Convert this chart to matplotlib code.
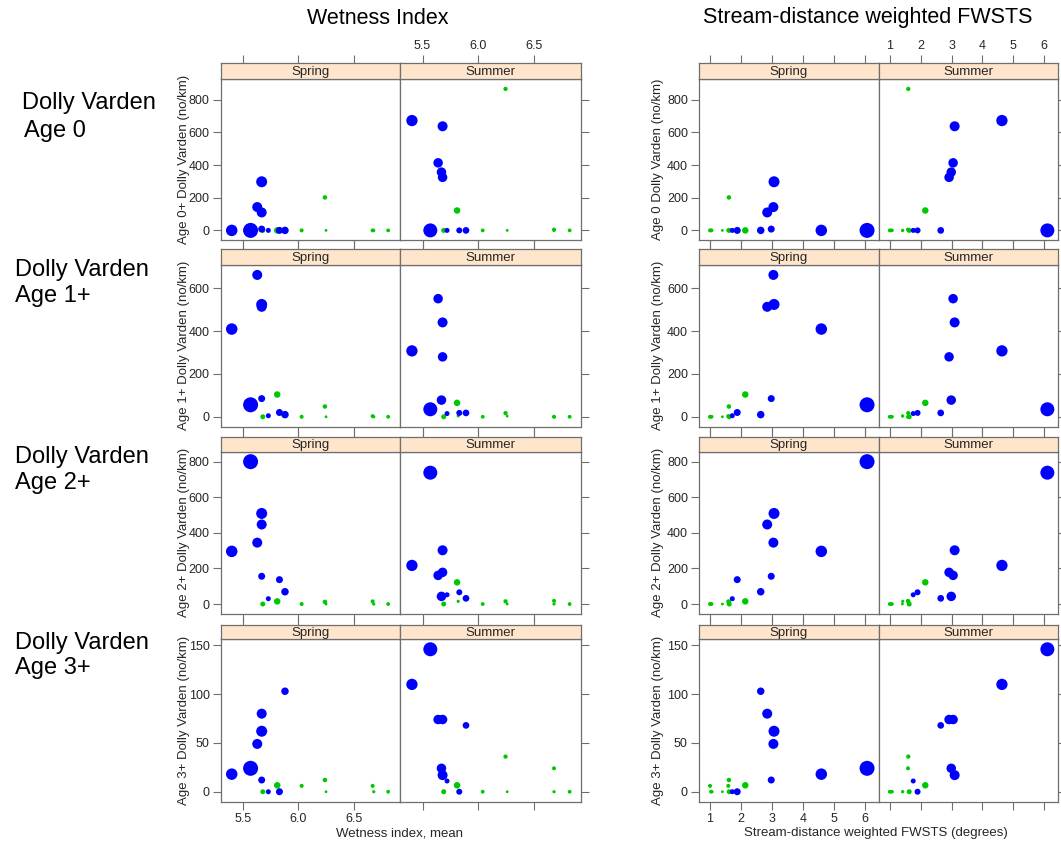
import matplotlib
matplotlib.use("Agg")
import matplotlib.pyplot as plt
from matplotlib.ticker import FormatStrFormatter

plt.rcParams['font.family'] = ['Liberation Sans', 'DejaVu Sans']

# ---------------------------------------------------------------------------
# Survey data: one entry per site, per season
# group: 1 = blue sites, 0 = green sites ; weight: relative site weight
# ---------------------------------------------------------------------------
seasons = ["Spring", "Summer"]
age_classes = ["0", "1+", "2+", "3+"]

spring_wetness = [5.68, 5.81, 6.03, 6.24, 6.25, 6.67, 6.68, 6.81,
                  5.63, 5.67, 5.67, 5.67, 5.73, 5.83, 5.88, 5.40, 5.57]
spring_fwsts = [1.62, 2.14, 1.00, 1.61, 1.40, 1.59, 1.02, 1.05,
                3.05, 3.07, 2.85, 2.98, 1.72, 1.88, 2.64, 4.60, 6.08]
spring_group = [0, 0, 0, 0, 0, 0, 0, 0,
                1, 1, 1, 1, 1, 1, 1, 1, 1]
spring_weight = [5.0, 6.5, 4.0, 4.5, 2.8, 4.0, 3.2, 3.8,
                 10.0, 11.0, 10.0, 7.0, 5.0, 7.0, 7.5, 11.5, 15.0]
spring_age0 = [0, 0, 0, 202, 0, 0, 0, 0,
               143, 298, 110, 8, 0, 0, 0, 0, 0]
spring_age1 = [0, 104, 0, 48, 0, 3, 0, 0,
               663, 525, 514, 85, 5, 20, 10, 410, 56]
spring_age2 = [0, 15, 0, 12, 0, 15, 0, 0,
               345, 509, 447, 156, 30, 137, 69, 296, 800]
spring_age3 = [0, 6.6, 6, 12, 0, 6, 0, 0,
               49, 62, 80, 12, 0, 0, 103, 18, 24]

summer_wetness = [5.69, 5.81, 6.04, 6.245, 6.26, 6.68, 6.68, 6.82, 5.82,
                  5.64, 5.68, 5.68, 5.67, 5.72, 5.83, 5.89, 5.405, 5.57]
summer_fwsts = [1.63, 2.15, 1.00, 1.60, 1.41, 1.59, 1.08, 1.05, 1.42,
                3.05, 3.10, 2.92, 2.99, 1.76, 1.90, 2.65, 4.63, 6.10]
summer_group = [0, 0, 0, 0, 0, 0, 0, 0, 0,
                1, 1, 1, 1, 1, 1, 1, 1, 1]
summer_weight = [5.0, 6.5, 3.8, 4.3, 2.8, 4.0, 3.2, 3.8, 3.2,
                 9.5, 10.0, 9.5, 9.5, 5.0, 6.0, 6.7, 11.3, 14.0]
summer_age0 = [0, 122, 0, 867, 0, 5, 0, 0, 0,
               414, 638, 325, 357, 0, 0, 0, 673, 0]
summer_age1 = [0, 65, 0, 17, 3, 0, 0, 0, 4,
               552, 441, 280, 78, 15, 18, 18, 308, 35]
summer_age2 = [0, 122, 0, 15, 0, 18, 0, 0, 15,
               161, 302, 178, 43, 52, 66, 32, 217, 738]
summer_age3 = [0, 6.6, 0, 36, 0, 24, 0, 0, 0,
               74, 17, 74, 24, 11, 0, 68, 110, 146]

wetness_ticks = [5.5, 6.0, 6.5]
fwsts_ticks = [1, 2, 3, 4, 5, 6]
density_ticks = [[0, 200, 400, 600, 800],
                 [0, 200, 400, 600],
                 [0, 200, 400, 600, 800],
                 [0, 50, 100, 150]]

sites = {
    "Spring": dict(wet=spring_wetness, fw=spring_fwsts, grp=spring_group,
                   w=spring_weight,
                   ages=[spring_age0, spring_age1, spring_age2, spring_age3]),
    "Summer": dict(wet=summer_wetness, fw=summer_fwsts, grp=summer_group,
                   w=summer_weight,
                   ages=[summer_age0, summer_age1, summer_age2, summer_age3]),
}

# ---------------------------------------------------------------------------
# Figure layout (pixel geometry of the trellis)
# ---------------------------------------------------------------------------
W, H = 1061, 844
fig = plt.figure(figsize=(W / 100, H / 100), dpi=100)
fig.patch.set_facecolor("white")

def px_axes(x0, y0, x1, y1):
    return fig.add_axes([x0 / W, 1 - y1 / H, (x1 - x0) / W, (y1 - y0) / H])

def fx(x):
    return x / W

def fy(y):
    return 1 - y / H

col_edges = {"wet": {"Spring": (220.7, 400.3), "Summer": (400.3, 580.7)},
             "fw": {"Spring": (699.0, 878.7), "Summer": (878.7, 1058.4)}}
row_edges = [(63.3, 79.0, 240.3), (249.3, 265.0, 426.7),
             (436.7, 451.7, 614.0), (625.0, 639.3, 801.7)]

def padded(vals):
    lo, hi = min(vals), max(vals)
    pad = 0.07 * (hi - lo)
    return lo - pad, hi + pad

xlims = {"wet": padded(spring_wetness + summer_wetness),
         "fw": padded(spring_fwsts + summer_fwsts)}
xticks = {"wet": wetness_ticks, "fw": fwsts_ticks}
xfmt = {"wet": "%.1f", "fw": "%d"}

FRAME = "#6e6e6e"
TXT = "#262626"
STRIP_BG = "#FFE5CC"
COLORS = {1: "#0000FF", 0: "#00C800"}

def style_frame(ax):
    for sp in ax.spines.values():
        sp.set_color(FRAME)
        sp.set_linewidth(0.9)
    ax.tick_params(direction="out", length=6, width=0.8, color=FRAME,
                   labelsize=9, labelcolor=TXT, pad=2)

for r in range(4):
    strip_top, strip_bot, panel_bot = row_edges[r]
    ylim = padded(sites["Spring"]["ages"][r] + sites["Summer"]["ages"][r])
    for var in ("wet", "fw"):
        for season in seasons:
            x0, x1 = col_edges[var][season]
            d = sites[season]
            xs = d["wet"] if var == "wet" else d["fw"]
            ys = d["ages"][r]

            ax = px_axes(x0, strip_bot, x1, panel_bot)
            ax.scatter(xs, ys,
                       s=[(0.72 * w) ** 2 for w in d["w"]],
                       c=[COLORS[g] for g in d["grp"]],
                       linewidths=0, zorder=3)
            ax.set_xlim(*xlims[var])
            ax.set_ylim(*ylim)
            ax.set_xticks(xticks[var])
            ax.set_yticks(density_ticks[r])
            ax.xaxis.set_major_formatter(FormatStrFormatter(xfmt[var]))
            style_frame(ax)
            ax.xaxis.set_ticks_position("bottom")
            ax.tick_params(axis="x",
                           labelbottom=(r == 3 and season == "Spring"))
            if season == "Spring":
                ax.yaxis.set_ticks_position("left")
            else:
                ax.yaxis.set_ticks_position("right")
                ax.tick_params(axis="y", labelright=False, labelleft=False)

            sax = px_axes(x0, strip_top, x1, strip_bot)
            sax.set_facecolor(STRIP_BG)
            sax.set_xlim(*xlims[var])
            sax.set_xticks(xticks[var])
            sax.xaxis.set_major_formatter(FormatStrFormatter(xfmt[var]))
            sax.set_yticks([])
            style_frame(sax)
            sax.xaxis.set_ticks_position("top")
            sax.tick_params(axis="x", labelbottom=False,
                            labeltop=(r == 0 and season == "Summer"))
            sax.text(0.5, 0.45, season, transform=sax.transAxes,
                     ha="center", va="center", fontsize=9.5, color=TXT)

    # y-axis titles of the two groups
    yc = fy((strip_bot + panel_bot) / 2)
    left_lab = "Age 0+ Dolly Varden (no/km)" if r == 0 else \
        f"Age {age_classes[r]} Dolly Varden (no/km)"
    right_lab = f"Age {age_classes[r]} Dolly Varden (no/km)"
    fig.text(fx(184), yc, left_lab, rotation=90, ha="center", va="center",
             fontsize=9.5, color=TXT)
    fig.text(fx(658), yc, right_lab, rotation=90, ha="center", va="center",
             fontsize=9.5, color=TXT)

# Row captions
row_caption_pos = [(22, 103, 131), (15, 270, 296), (15, 457, 483),
                   (15, 643, 668)]
for r, (lx, y1, y2) in enumerate(row_caption_pos):
    fig.text(fx(lx), fy(y1), "Dolly Varden", ha="left", va="center",
             fontsize=17, color="black")
    fig.text(fx(lx + (2 if r == 0 else 0)), fy(y2), f"Age {age_classes[r]}",
             ha="left", va="center", fontsize=17, color="black")

# Column titles
fig.text(fx(378), fy(18), "Wetness Index", ha="center", va="center",
         fontsize=15.5, color="black")
fig.text(fx(868), fy(18), "Stream-distance weighted FWSTS", ha="center",
         va="center", fontsize=15.5, color="black")

# x-axis titles
fig.text(fx(400), fy(833), "Wetness index, mean", ha="center", va="center",
         fontsize=9.5, color=TXT)
fig.text(fx(876), fy(833), "Stream-distance weighted FWSTS (degrees)",
         ha="center", va="center", fontsize=9.5, color=TXT)

fig.savefig("out.png", dpi=100, facecolor="white")
